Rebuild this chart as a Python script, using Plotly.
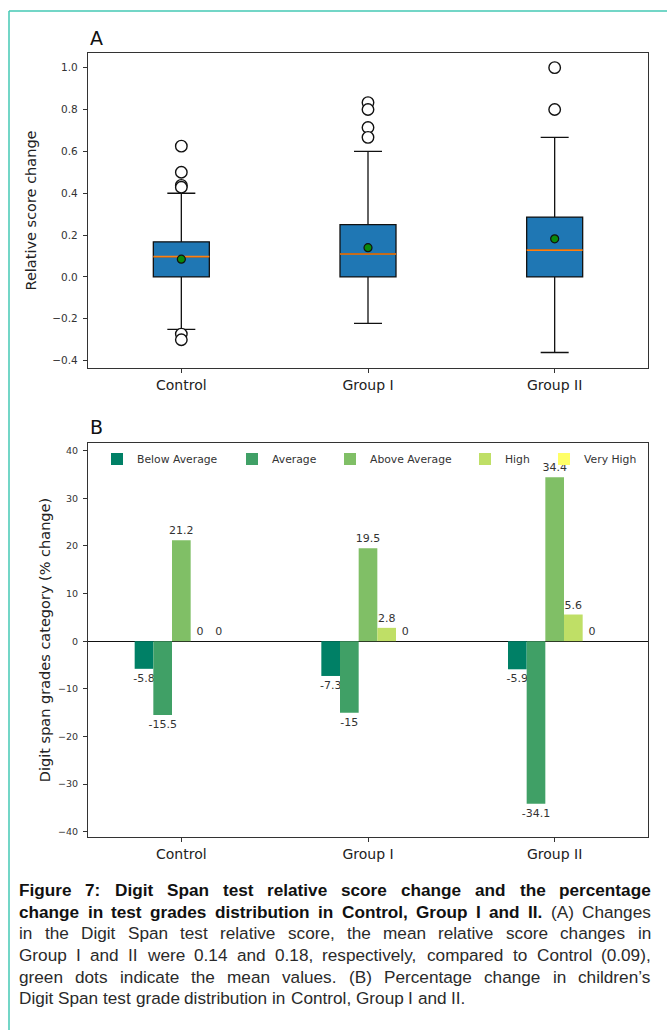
import plotly.graph_objects as go

W, H = 667, 1030

# ---------------- Panel A data (box statistics) -------------
groups = ["Control", "Group I", "Group II"]
box_q1 = [0.0, 0.0, 0.0]
box_median = [0.097, 0.11, 0.128]
box_q3 = [0.168, 0.25, 0.286]
whisker_low = [-0.25, -0.222, -0.361]
whisker_high = [0.40, 0.60, 0.667]
group_means = [0.085, 0.14, 0.182]
outliers_control = [0.625, 0.5, 0.4375, 0.4286, -0.273, -0.30]
outliers_group1 = [0.833, 0.80, 0.714, 0.667]
outliers_group2 = [1.0, 0.8]

# ---------------- Panel B data -------------
grade_categories = ["Below Average", "Average", "Above Average", "High", "Very High"]
below_average = [-5.8, -7.3, -5.9]
average = [-15.5, -15, -34.1]
above_average = [21.2, 19.5, 34.4]
high = [0, 2.8, 5.6]
very_high = [0, 0, 0]

# styles
grade_colors = ["#008066", "#40a066", "#80bf66", "#bfdf66", "#ffff66"]
BOX_WIDTH = 0.3
FONT = "DejaVu Sans"
CAP_FONT = "Liberation Sans, Arial, sans-serif"


def fx(px):
    return px / W


def fy(py):
    return 1 - py / H


fig = go.Figure()

positions = [i + 1 for i in range(len(groups))]

# ---- boxes
fig.add_trace(go.Box(
    x=positions, q1=box_q1, median=box_median, q3=box_q3,
    lowerfence=whisker_low, upperfence=whisker_high,
    width=BOX_WIDTH, whiskerwidth=0.5, boxpoints=False,
    fillcolor="#1f77b4", line=dict(color="#111111", width=1.3),
    xaxis="x", yaxis="y", showlegend=False, hoverinfo="skip",
))

# ---- orange median lines
mx, my = [], []
for p, m in zip(positions, box_median):
    mx += [p - BOX_WIDTH / 2, p + BOX_WIDTH / 2, None]
    my += [m, m, None]
fig.add_trace(go.Scatter(x=mx, y=my, mode="lines",
                         line=dict(color="#ff7f0e", width=1.6),
                         xaxis="x", yaxis="y", showlegend=False, hoverinfo="skip"))

# ---- outliers
ox, oy = [], []
for p, vals in zip(positions, [outliers_control, outliers_group1, outliers_group2]):
    ox += [p] * len(vals)
    oy += vals
fig.add_trace(go.Scatter(x=ox, y=oy, mode="markers",
                         marker=dict(symbol="circle", size=11.5, color="white",
                                     line=dict(color="#111111", width=1.4)),
                         xaxis="x", yaxis="y", showlegend=False, hoverinfo="skip"))

# ---- means
fig.add_trace(go.Scatter(x=positions, y=group_means, mode="markers",
                         marker=dict(symbol="circle", size=8, color="#0a8a0a",
                                     line=dict(color="#111111", width=1.2)),
                         xaxis="x", yaxis="y", showlegend=False, hoverinfo="skip"))

# ---- bars
series = [below_average, average, above_average, high, very_high]
legend_text_x = [137, 272, 370, 505, 584]
for i, (name, vals, col) in enumerate(zip(grade_categories, series, grade_colors)):
    lg = "legend" if i == 0 else f"legend{i + 1}"
    fig.add_trace(go.Bar(
        x=groups, y=vals, name=name, marker=dict(color=col, line=dict(width=0)),
        text=[f"{v:g}" for v in vals], textposition="outside",
        textfont=dict(family=FONT, size=11, color="#333333"),
        constraintext="none", cliponaxis=False,
        xaxis="x2", yaxis="y2", legend=lg, hoverinfo="skip",
    ))

axis_common = dict(showline=True, mirror=True, linecolor="#333333", linewidth=1.2,
                   ticks="outside", ticklen=4, tickwidth=1, tickcolor="#333333",
                   showgrid=False, zeroline=False)

layout = dict(
    width=W, height=H, margin=dict(l=0, r=0, t=0, b=0),
    paper_bgcolor="white", plot_bgcolor="white",
    barmode="group", bargap=0.5, bargroupgap=0,
    font=dict(family=FONT, color="#333333"),
    xaxis=dict(domain=[fx(88), fx(648)], range=[0.5, 3.5], tickvals=positions,
               ticktext=groups, anchor="y",
               tickfont=dict(size=14, color="#222222"), **axis_common),
    yaxis=dict(domain=[fy(368), fy(53)], range=[-0.435, 1.07], tick0=0, dtick=0.2,
               tickformat=".1f", anchor="x", tickfont=dict(size=10.5),
               ticklabelstandoff=3,
               title=dict(text="Relative score change", standoff=12,
                          font=dict(size=14.5, color="#222222")),
               **axis_common),
    xaxis2=dict(domain=[fx(88), fx(648)], range=[-0.5, 2.5], anchor="y2",
                tickfont=dict(size=14, color="#222222"), **axis_common),
    yaxis2=dict(domain=[fy(837), fy(443)], range=[-41.1, 41.6],
                tickvals=[-40, -30, -20, -10, 0, 10, 20, 30, 40], anchor="x2",
                tickfont=dict(size=9.5), ticklabelstandoff=3,
                title=dict(text="Digit span grades category (% change)", standoff=3,
                           font=dict(size=14.5, color="#222222")),
                **{**axis_common, "zeroline": True}),
)
layout["yaxis2"]["zerolinecolor"] = "#111111"
layout["yaxis2"]["zerolinewidth"] = 1.3

for i, tx in enumerate(legend_text_x):
    key = "legend" if i == 0 else f"legend{i + 1}"
    layout[key] = dict(x=fx(tx - 40), xanchor="left", y=fy(459), yanchor="middle",
                       orientation="h", bgcolor="rgba(0,0,0,0)", borderwidth=0,
                       font=dict(family=FONT, size=10.8, color="#333333"))

fig.update_layout(**layout)

# ---- panel letters
for letter, ly in [("A", 38), ("B", 427)]:
    fig.add_annotation(text=letter, x=fx(88), y=fy(ly), xref="paper", yref="paper",
                       xanchor="left", yanchor="middle", showarrow=False,
                       font=dict(family=FONT, size=19, color="#111111"))

# ---- frame
fig.add_shape(type="line", xref="paper", yref="paper", x0=fx(9), x1=fx(9), y0=0, y1=fy(11),
              line=dict(color="#45c9b5", width=1.5))
fig.add_shape(type="line", xref="paper", yref="paper", x0=fx(9), x1=1, y0=fy(11), y1=fy(11),
              line=dict(color="#45c9b5", width=1.5))

# ---- caption (justified, Arial/Liberation metrics)
REG = {**dict(zip("abcdefghijklmnopqrstuvwxyz",
                  [556, 556, 500, 556, 556, 278, 556, 556, 222, 222, 500, 222, 833, 556, 556, 556,
                   556, 333, 500, 278, 556, 500, 722, 500, 500, 500])),
       **dict(zip("ABCDEFGHIJKLMNOPQRSTUVWXYZ",
                  [667, 667, 722, 722, 667, 611, 778, 722, 278, 500, 667, 556, 833, 722, 778, 667,
                   778, 722, 667, 611, 722, 667, 944, 667, 667, 611])),
       **{d: 556 for d in "0123456789"}, " ": 278, ".": 278, ",": 278, ":": 278,
       "(": 333, ")": 333, "’": 222}
BOLD = {**dict(zip("abcdefghijklmnopqrstuvwxyz",
                   [556, 611, 556, 611, 556, 333, 611, 611, 278, 278, 556, 278, 889, 611, 611, 611,
                    611, 389, 556, 333, 611, 556, 778, 556, 556, 500])),
        **dict(zip("ABCDEFGHIJKLMNOPQRSTUVWXYZ",
                   [722, 722, 722, 722, 667, 611, 778, 722, 278, 556, 722, 611, 833, 722, 778, 667,
                    778, 722, 667, 611, 722, 667, 944, 667, 667, 611])),
        **{d: 556 for d in "0123456789"}, " ": 278, ".": 278, ",": 278, ":": 333,
        "(": 333, ")": 333, "’": 278}

caption_lines = [
    [("Figure 7: Digit Span test relative score change and the percentage", True)],
    [("change in test grades distribution in Control, Group I and II.", True),
     ("(A) Changes", False)],
    [("in the Digit Span test relative score, the mean relative score changes in", False)],
    [("Group I and II were 0.14 and 0.18, respectively, compared to Control (0.09),", False)],
    [("green dots indicate the mean values. (B) Percentage change in children’s", False)],
    [("Digit Span test grade distribution in Control, Group I and II.", False)],
]
caption_y = [890, 911.7, 933.3, 955, 976.7, 998.3]
CAP_SIZE = 17.2
CAP_LEFT, CAP_RIGHT = 18, 650

for li, (segs, ly) in enumerate(zip(caption_lines, caption_y)):
    words = []
    for txt, bold in segs:
        for w in txt.split(" "):
            table = BOLD if bold else REG
            wid = sum(table.get(c, 556) for c in w) * CAP_SIZE / 1000
            words.append((w, bold, wid))
    total = sum(w[2] for w in words)
    last = li == len(caption_lines) - 1
    gap = 278 * CAP_SIZE / 1000 if last else (CAP_RIGHT - CAP_LEFT - total) / (len(words) - 1)
    xpos = CAP_LEFT
    for w, bold, wid in words:
        fig.add_annotation(text=f"<b>{w}</b>" if bold else w, x=fx(xpos), y=fy(ly),
                           xref="paper", yref="paper", xanchor="left", yanchor="middle",
                           showarrow=False, borderpad=0,
                           font=dict(family=CAP_FONT, size=CAP_SIZE,
                                     color="#111111" if bold else "#2a2a2a"))
        xpos += wid + gap

fig.write_html("out.html", config={"displayModeBar": False},
               post_script="document.body.style.margin='0';")
